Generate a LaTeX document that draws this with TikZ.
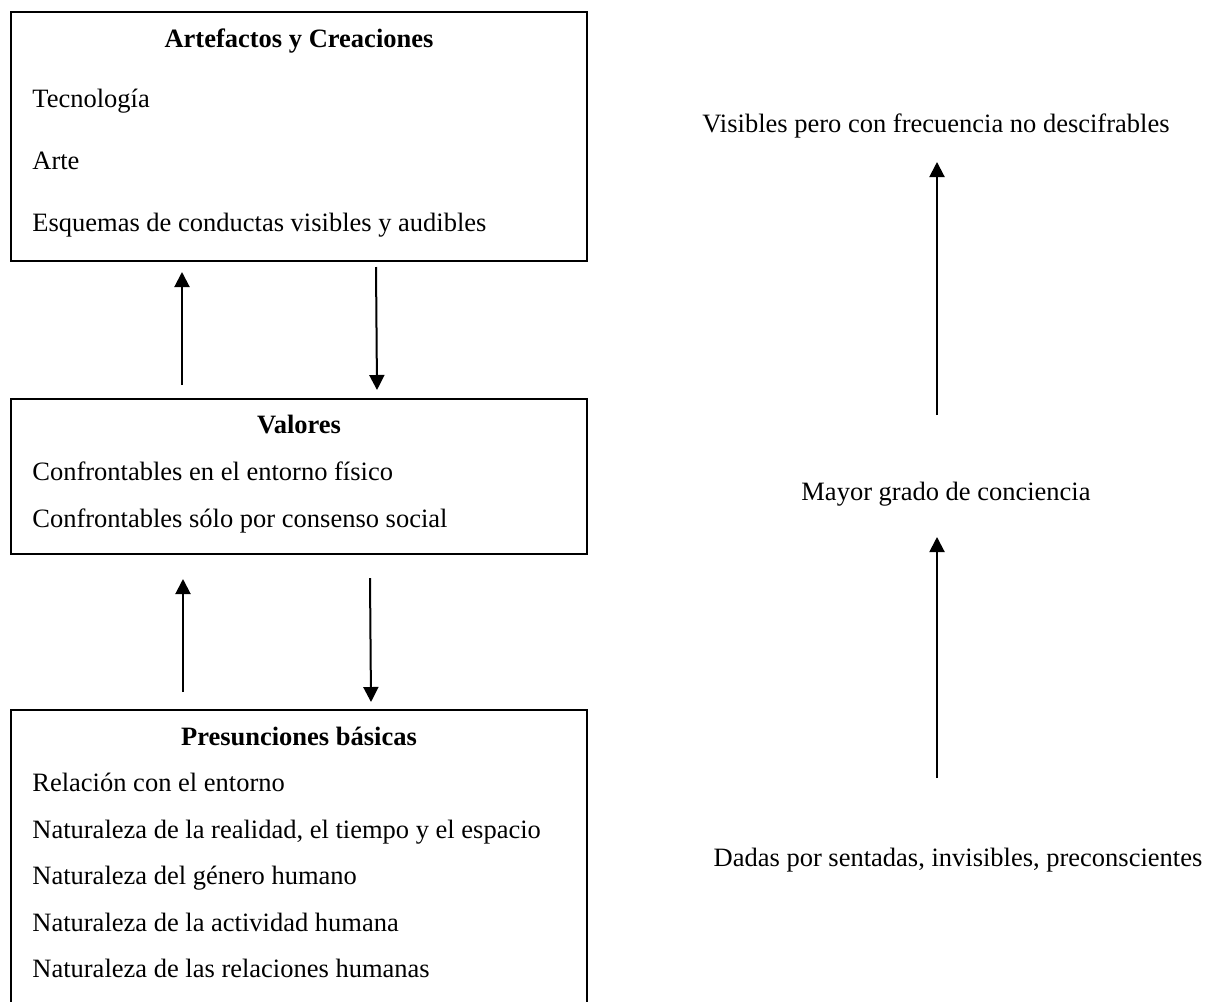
\documentclass[tikz,border=0pt]{standalone}
\usepackage{fontspec}
\setmainfont{Liberation Serif}
\usetikzlibrary{arrows.meta,positioning}

\begin{document}
\begin{tikzpicture}[
    x=0.5pt, y=-0.5pt,
    every node/.style={font=\fontsize{13.25pt}{16pt}\selectfont, inner sep=0pt},
    nivel/.style={rectangle, draw, line width=1pt, minimum width=288pt},
    titulo/.style={anchor=base, font=\fontsize{13.25pt}{16pt}\selectfont\bfseries},
    item/.style={anchor=base west},
    nota/.style={anchor=base},
    arrow/.style={-{Triangle[width=7.5pt,length=7.5pt]}, line width=1pt}
]
\path[use as bounding box, clip] (0,0) rectangle (1208,1001);

% niveles
\node[nivel, minimum height=124.5pt] (artefactos) at (299,136.5) {};
\node[nivel, minimum height=77.5pt] (valores) at (299,476.5) {};
\node[nivel, minimum height=160pt] (presunciones) at (299,870) {};

% Artefactos y Creaciones
\node[titulo] (t1) at (299,47) {Artefactos y Creaciones};
\node[item] (tec) at (32,107) {Tecnología};
\node[item] (arte) at (32,169) {Arte};
\node[item] (esq) at (32,231) {Esquemas de conductas visibles y audibles};

% Valores
\node[titulo] (t2) at (299,433) {Valores};
\node[item] (conf1) at (32,480) {Confrontables en el entorno físico};
\node[item] (conf2) at (32,527) {Confrontables sólo por consenso social};

% Presunciones básicas
\node[titulo] (t3) at (299,745) {Presunciones básicas};
\node[item] (rel) at (32,791) {Relación con el entorno};
\node[item] (nat1) at (32,838) {Naturaleza de la realidad, el tiempo y el espacio};
\node[item] (nat2) at (32,884) {Naturaleza del género humano};
\node[item] (nat3) at (32,931) {Naturaleza de la actividad humana};
\node[item] (nat4) at (32,977) {Naturaleza de las relaciones humanas};

% grado de conciencia
\node[nota] (visibles) at (936,132) {Visibles pero con frecuencia no descifrables};
\node[nota] (mayor) at (946,500) {Mayor grado de conciencia};
\node[nota] (dadas) at (958,866) {Dadas por sentadas, invisibles, preconscientes};

% extremos de las flechas
\coordinate (u1a) at (182,385);  \coordinate (u1b) at (182,272);
\coordinate (d1a) at (376,267);  \coordinate (d1b) at (377,390);
\coordinate (u2a) at (183,692);  \coordinate (u2b) at (183,579);
\coordinate (d2a) at (370,578);  \coordinate (d2b) at (371,702);
\coordinate (r1a) at (937,415);  \coordinate (r1b) at (937,162);
\coordinate (r2a) at (937,778);  \coordinate (r2b) at (937,537);

% flechas entre niveles
\draw[arrow] (u1a) -- (u1b);
\draw[arrow] (d1a) -- (d1b);
\draw[arrow] (u2a) -- (u2b);
\draw[arrow] (d2a) -- (d2b);

% flechas de la derecha
\draw[arrow] (r1a) -- (r1b);
\draw[arrow] (r2a) -- (r2b);

\end{tikzpicture}
\end{document}
